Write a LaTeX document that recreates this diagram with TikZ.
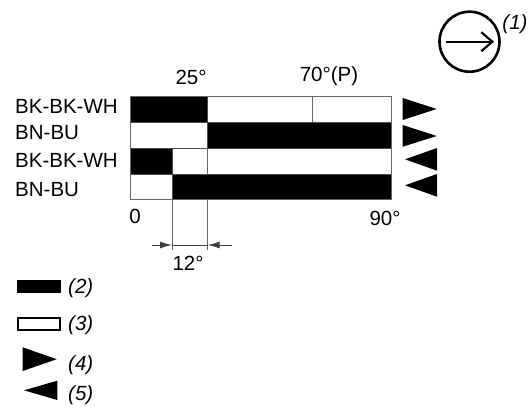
\documentclass[tikz,border=0pt]{standalone}
\usepackage{fontspec}
\setmainfont{Liberation Sans}
\usetikzlibrary{arrows.meta}

\tikzset{
  txt/.style={font=\fontsize{20.5}{24}\selectfont, inner sep=0pt},
  refno/.style={font=\fontsize{20.5}{24}\selectfont\itshape, inner sep=0pt},
  on/.style={fill=black, draw=black!70, line width=0.9pt},
  off/.style={fill=white, draw=black!70, line width=0.9pt},
  gridline/.style={draw=black!60, line width=1pt},
  dim/.style={draw=black!75, line width=1pt},
}

\begin{document}
\begin{tikzpicture}[x=1pt,y=-1pt]
    \useasboundingbox (0,0) rectangle (531,410);

    %Direction symbol
    \draw[line width=2.6pt] (469.5,41.7) circle [radius=30];
    \coordinate (ArrowStart) at (446,41.7);
    \coordinate (ArrowEnd) at (494,41.7);
    \draw[line width=2.2pt,-{Straight Barb[length=11pt,width=19pt,line width=2.2pt]}] (ArrowStart) -- (ArrowEnd);
    \node[refno] (One) at (515,24) {(1)};

    %Angle labels
    \node[txt] (TwentyFive) at (191,77.5) {25°};
    \node[txt] (Seventy) at (329,76.5) {70°(P)};
    \node[txt] (Zero) at (135,216.7) {0};
    \node[txt] (Ninety) at (385,218) {90°};

    %Wire labels
    \node[txt, anchor=west] (RowA) at (15,106.7) {BK-BK-WH};
    \node[txt, anchor=west] (RowB) at (15,132.5) {BN-BU};
    \node[txt, anchor=west] (RowC) at (15,160.8) {BK-BK-WH};
    \node[txt, anchor=west] (RowD) at (15,189.2) {BN-BU};

    %Cells
    \filldraw[on]  (130.7,96.7)  rectangle (207.7,122.3);
    \filldraw[off] (207.7,96.7)  rectangle (391,122.3);
    \filldraw[off] (130.7,122.3) rectangle (207.7,148.3);
    \filldraw[on]  (207.7,122.3) rectangle (391,148.3);
    \filldraw[on]  (130.7,148.3) rectangle (172,174);
    \filldraw[off] (172,148.3)   rectangle (391,174);
    \filldraw[off] (130.7,174)   rectangle (172,199.3);
    \filldraw[on]  (172,174)     rectangle (391,199.3);
    \draw[gridline] (130.7,96.7) rectangle (391,199.3);
    \draw[gridline] (312.7,96.7) -- (312.7,122.3);
    \draw[gridline] (207.7,148.3) -- (207.7,174);

    %Dimension 12
    \coordinate (MarkA) at (172,245);
    \coordinate (MarkB) at (207.7,245);
    \coordinate (DimL) at (152.3,245);
    \coordinate (DimR) at (232.3,245);
    \draw[gridline] (172,199.3) -- (172,250);
    \draw[gridline] (207.7,199.3) -- (207.7,250);
    \draw[dim] (MarkA) -- (MarkB);
    \draw[dim,-{Latex[length=12pt,width=7pt]}] (DimL) -- (MarkA);
    \draw[dim,-{Latex[length=12pt,width=7pt]}] (DimR) -- (MarkB);
    \node[txt] (Twelve) at (188,263.3) {12°};

    %Rotation flags
    \fill (402.7,98) -- (436.7,109) -- (402.7,120) -- cycle;
    \fill (402.7,125) -- (436.7,136) -- (402.7,146.7) -- cycle;
    \fill (437,148) -- (405,159.3) -- (437,170.7) -- cycle;
    \fill (437,174) -- (405,185.3) -- (437,196.7) -- cycle;

    %Legend
    \fill (17.3,280) rectangle (61,293.3);
    \draw[line width=1.8pt] (18.2,317.6) rectangle (60.1,329.8);
    \fill (22.7,347.3) -- (56.7,359.2) -- (22.7,371) -- cycle;
    \fill (57.3,380.7) -- (24,390.3) -- (57.3,400) -- cycle;
    \node[refno, anchor=west] (Two) at (68,288) {(2)};
    \node[refno, anchor=west] (Three) at (68,325) {(3)};
    \node[refno, anchor=west] (Four) at (68,365) {(4)};
    \node[refno, anchor=west] (Five) at (68,395) {(5)};
\end{tikzpicture}
\end{document}
